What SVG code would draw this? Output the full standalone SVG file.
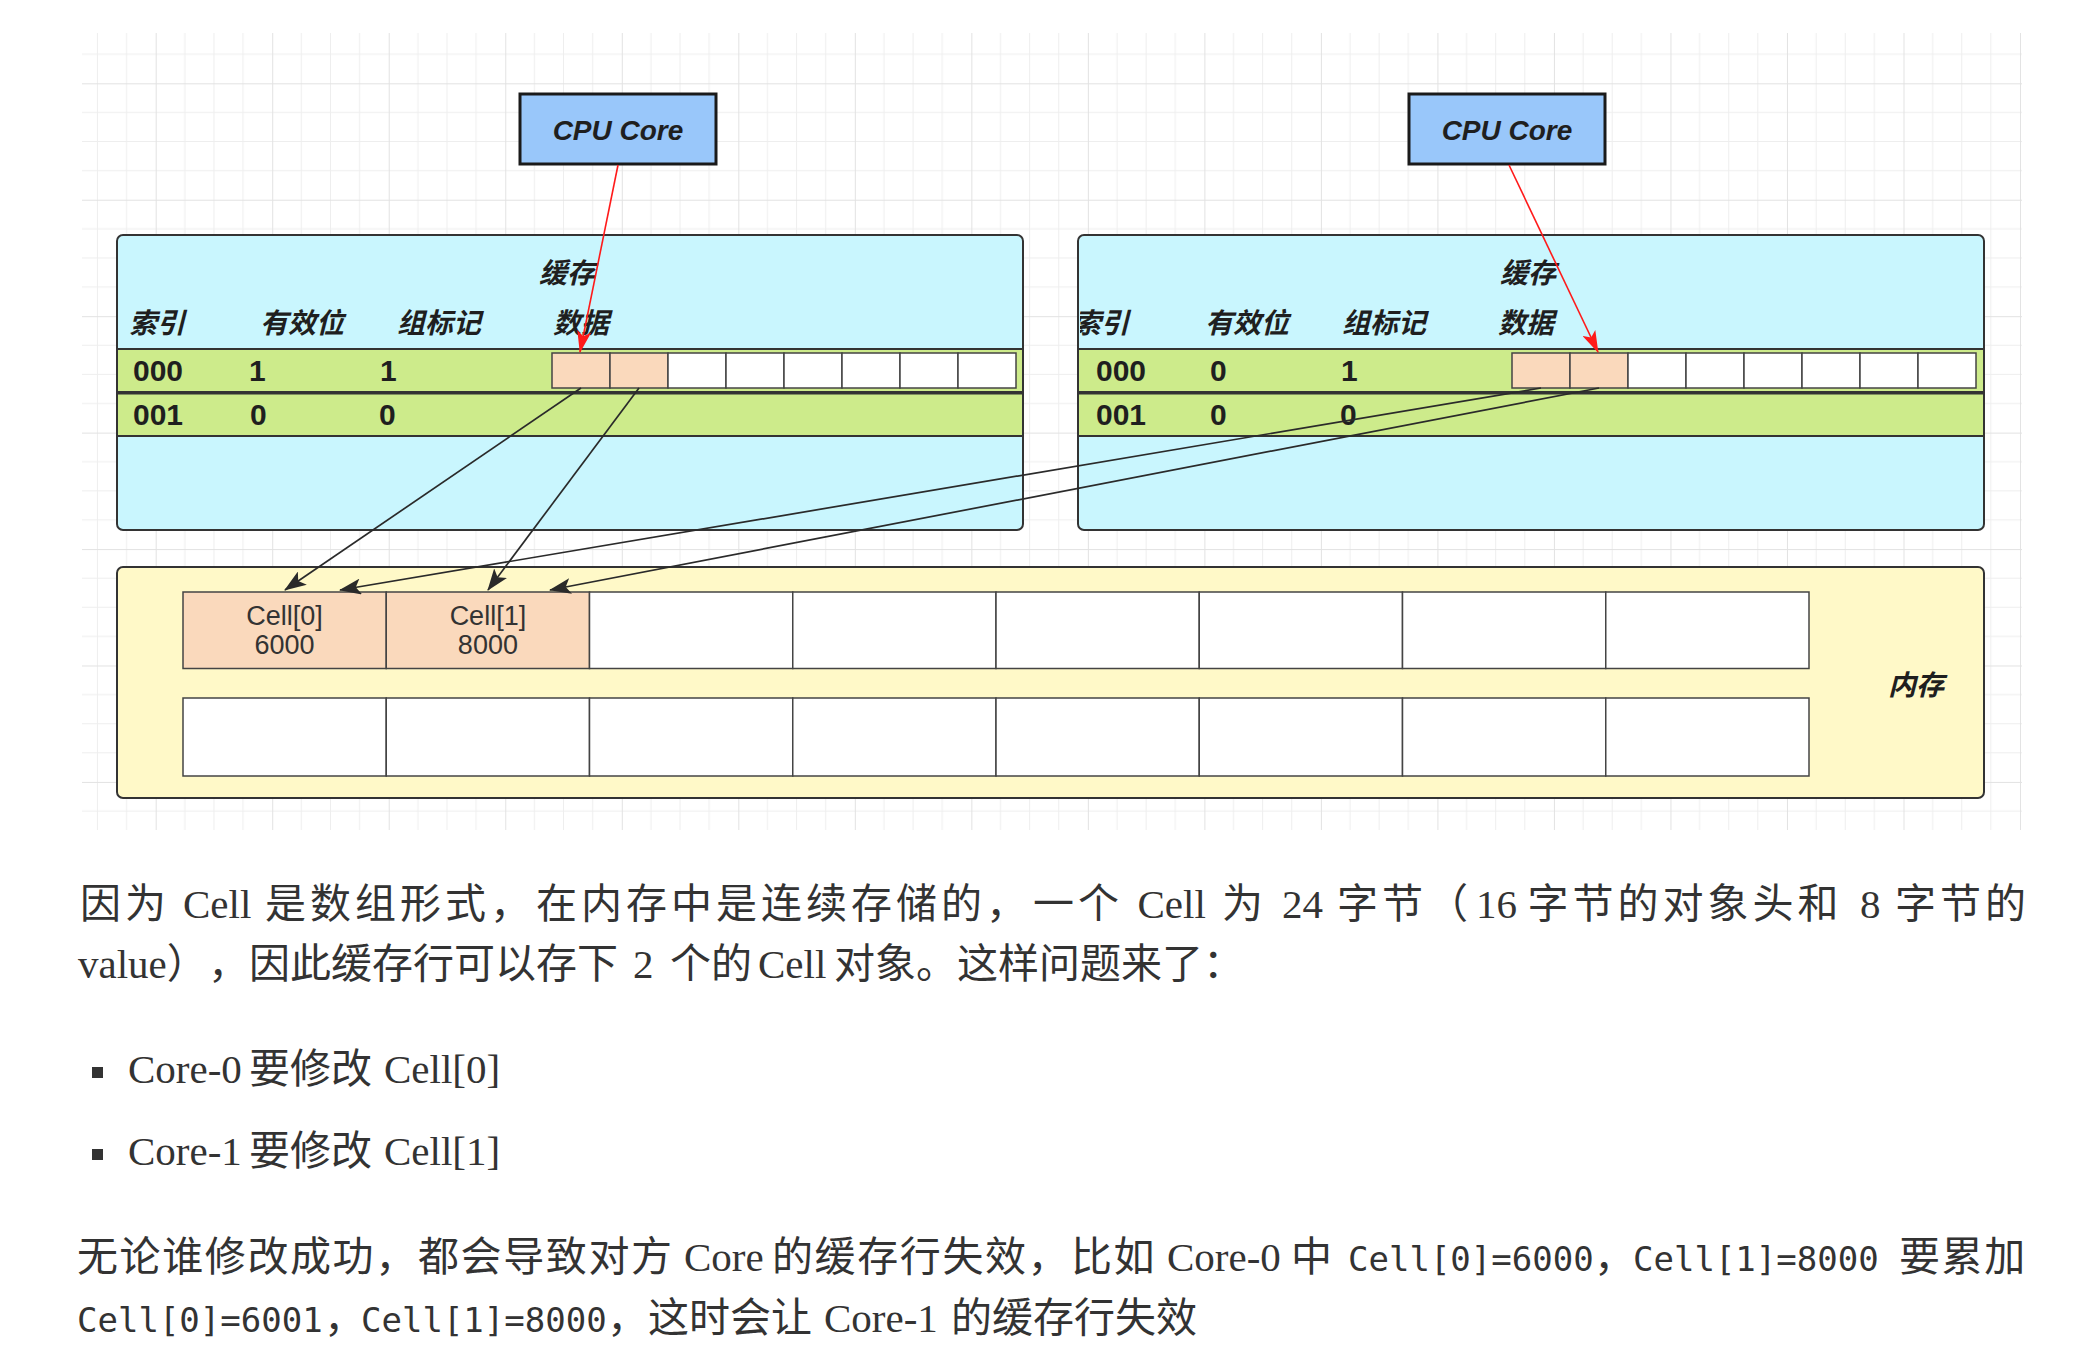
<svg xmlns="http://www.w3.org/2000/svg" width="2077" height="1368" viewBox="0 0 2077 1368">
<style>
.lbl{font-family:"Noto Sans CJK SC","Liberation Sans",sans-serif;font-weight:bold;font-style:italic;font-size:28px;fill:#1f1f1f}
.num{font-family:"Liberation Sans",Arial,sans-serif;font-weight:bold;font-size:30px;fill:#1f1f1f}
.cpu{font-family:"Liberation Sans",Arial,sans-serif;font-weight:bold;font-style:italic;font-size:28px;fill:#1f1f1f;text-anchor:middle}
.celltxt{font-family:"Liberation Sans",Arial,sans-serif;font-size:27px;fill:#333;text-anchor:middle}
.box{stroke:#333;stroke-width:2}
.band{fill:#cdeb8b;stroke:#333;stroke-width:2}
.dc{fill:#fff;stroke:#444;stroke-width:1.5}
.mc{fill:#fff;stroke:#444;stroke-width:1.5}
.dc.hot,.mc.hot{fill:#fad9bc}
.p{font-family:"Liberation Serif","Noto Sans CJK SC",serif;font-size:41px;fill:#333}
.j{letter-spacing:4px}
.j2{letter-spacing:1.6px}
.code{font-family:"DejaVu Sans Mono","Liberation Mono",monospace;font-size:34px}
.conn{stroke:#2a2a2a;stroke-width:1.7;fill:none;marker-end:url(#ah)}
.red{stroke:#ff1a1a;stroke-width:1.6;fill:none;marker-end:url(#ahr)}
</style>
<defs>
<pattern id="grid" patternUnits="userSpaceOnUse" x="39.18" y="83.3" width="116.52" height="116.44">
<path d="M29.13,0V116.44M58.26,0V116.44M87.39,0V116.44M0,29.11H116.52M0,58.22H116.52M0,87.33H116.52" stroke="#eeeeee" stroke-width="1" fill="none"/>
<path d="M0.5,0V116.44M0,0.5H116.52" stroke="#e2e2e2" stroke-width="1" fill="none"/>
</pattern>
<marker id="ah" viewBox="0 0 22 16" markerWidth="22" markerHeight="16" refX="21" refY="8" orient="auto" markerUnits="userSpaceOnUse">
<path d="M0,0 L22,8 L0,16 L5,8 Z" fill="#2a2a2a"/>
</marker>
<marker id="ahr" viewBox="0 0 22 14" markerWidth="22" markerHeight="14" refX="21" refY="7" orient="auto" markerUnits="userSpaceOnUse">
<path d="M0,0 L22,7 L0,14 L5,7 Z" fill="#ff1a1a"/>
</marker>
<clipPath id="clip2"><rect x="1080" y="235" width="904" height="295"/></clipPath>
</defs>
<rect width="2077" height="1368" fill="#ffffff"/>
<rect x="82" y="33" width="1940" height="797" fill="url(#grid)"/>

<g id="cpu-core-0">
<rect x="520" y="94" width="196" height="70" fill="#99c7fa" stroke="#1a1a1a" stroke-width="3"/>
<text class="cpu" x="618" y="139.5">CPU Core</text>
</g>
<g id="cpu-core-1">
<rect x="1409" y="94" width="196" height="70" fill="#99c7fa" stroke="#1a1a1a" stroke-width="3"/>
<text class="cpu" x="1507" y="139.5">CPU Core</text>
</g>

<g id="cache-0">
<rect class="box" x="117" y="235" width="906" height="295" rx="6" fill="#c9f6fe"/>
<text class="lbl" x="539" y="283">缓存</text>
<text class="lbl" x="129" y="333">索引</text>
<text class="lbl" x="260" y="333">有效位</text>
<text class="lbl" x="397" y="333">组标记</text>
<text class="lbl" x="553" y="333">数据</text>
<rect class="band" x="117" y="349" width="906" height="43"/>
<rect class="band" x="117" y="393.5" width="906" height="42.5"/>
<text class="num" x="133" y="381">000</text>
<text class="num" x="249" y="381">1</text>
<text class="num" x="380" y="381">1</text>
<text class="num" x="133" y="425">001</text>
<text class="num" x="250" y="425">0</text>
<text class="num" x="379" y="425">0</text>
<rect class="dc hot" x="552" y="353" width="58" height="35"/>
<rect class="dc hot" x="610" y="353" width="58" height="35"/>
<rect class="dc" x="668" y="353" width="58" height="35"/>
<rect class="dc" x="726" y="353" width="58" height="35"/>
<rect class="dc" x="784" y="353" width="58" height="35"/>
<rect class="dc" x="842" y="353" width="58" height="35"/>
<rect class="dc" x="900" y="353" width="58" height="35"/>
<rect class="dc" x="958" y="353" width="58" height="35"/>
</g>

<g id="cache-1">
<rect class="box" x="1078" y="235" width="906" height="295" rx="6" fill="#c9f6fe"/>
<text class="lbl" x="1500" y="283">缓存</text>
<text class="lbl" x="1073" y="333" clip-path="url(#clip2)">索引</text>
<text class="lbl" x="1205" y="333">有效位</text>
<text class="lbl" x="1342" y="333">组标记</text>
<text class="lbl" x="1498" y="333">数据</text>
<rect class="band" x="1078" y="349" width="906" height="43"/>
<rect class="band" x="1078" y="393.5" width="906" height="42.5"/>
<text class="num" x="1096" y="381">000</text>
<text class="num" x="1210" y="381">0</text>
<text class="num" x="1341" y="381">1</text>
<text class="num" x="1096" y="425">001</text>
<text class="num" x="1210" y="425">0</text>
<text class="num" x="1340" y="425">0</text>
<rect class="dc hot" x="1512" y="353" width="58" height="35"/>
<rect class="dc hot" x="1570" y="353" width="58" height="35"/>
<rect class="dc" x="1628" y="353" width="58" height="35"/>
<rect class="dc" x="1686" y="353" width="58" height="35"/>
<rect class="dc" x="1744" y="353" width="58" height="35"/>
<rect class="dc" x="1802" y="353" width="58" height="35"/>
<rect class="dc" x="1860" y="353" width="58" height="35"/>
<rect class="dc" x="1918" y="353" width="58" height="35"/>
</g>

<g id="memory">
<rect class="box" x="117" y="567" width="1867" height="231" rx="6" fill="#fff9c8"/>
<rect class="mc hot" x="183" y="592" width="203.25" height="76.5"/>
<rect class="mc hot" x="386.25" y="592" width="203.25" height="76.5"/>
<rect class="mc" x="589.5" y="592" width="203.25" height="76.5"/>
<rect class="mc" x="792.75" y="592" width="203.25" height="76.5"/>
<rect class="mc" x="996" y="592" width="203.25" height="76.5"/>
<rect class="mc" x="1199.25" y="592" width="203.25" height="76.5"/>
<rect class="mc" x="1402.5" y="592" width="203.25" height="76.5"/>
<rect class="mc" x="1605.75" y="592" width="203.25" height="76.5"/>
<rect class="mc" x="183" y="698" width="203.25" height="78"/>
<rect class="mc" x="386.25" y="698" width="203.25" height="78"/>
<rect class="mc" x="589.5" y="698" width="203.25" height="78"/>
<rect class="mc" x="792.75" y="698" width="203.25" height="78"/>
<rect class="mc" x="996" y="698" width="203.25" height="78"/>
<rect class="mc" x="1199.25" y="698" width="203.25" height="78"/>
<rect class="mc" x="1402.5" y="698" width="203.25" height="78"/>
<rect class="mc" x="1605.75" y="698" width="203.25" height="78"/>
<text class="celltxt" x="284.6" y="625">Cell[0]</text>
<text class="celltxt" x="284.6" y="654">6000</text>
<text class="celltxt" x="487.9" y="625">Cell[1]</text>
<text class="celltxt" x="487.9" y="654">8000</text>
<text class="lbl" x="1888" y="695">内存</text>
</g>

<g id="connectors">
<line class="red" x1="618" y1="165" x2="580" y2="352"/>
<line class="red" x1="1509" y1="165" x2="1598" y2="352"/>
<line class="conn" x1="581" y1="388" x2="285" y2="590"/>
<line class="conn" x1="639" y1="388" x2="488" y2="590"/>
<line class="conn" x1="1541" y1="388" x2="340" y2="590"/>
<line class="conn" x1="1599" y1="388" x2="550" y2="590"/>
</g>

<g id="text" class="p">
<text y="918"><tspan x="80" class="j">因为</tspan><tspan x="183">Cell</tspan><tspan x="265" class="j">是数组形式，</tspan><tspan x="536" class="j">在内存中是连续存储的，</tspan><tspan x="1033" class="j">一个</tspan><tspan x="1137.5">Cell</tspan><tspan x="1222" class="j">为</tspan><tspan x="1282">24</tspan><tspan x="1337" class="j">字节（</tspan><tspan x="1476">16</tspan><tspan x="1527.5" class="j">字节的对象头和</tspan><tspan x="1860">8</tspan><tspan x="1895" class="j">字节的</tspan></text>
<text y="978"><tspan x="78">value）</tspan><tspan x="208">，</tspan><tspan x="249">因此缓存行可以存下</tspan><tspan x="633">2</tspan><tspan x="670">个的</tspan><tspan x="758">Cell</tspan><tspan x="834">对象。这样问题来了：</tspan></text>
<rect x="92" y="1067" width="11" height="11" fill="#333"/>
<text y="1083"><tspan x="128">Core-0</tspan><tspan x="249">要修改</tspan><tspan x="384">Cell[0]</tspan></text>
<rect x="92" y="1149" width="11" height="11" fill="#333"/>
<text y="1165"><tspan x="128">Core-1</tspan><tspan x="249">要修改</tspan><tspan x="384">Cell[1]</tspan></text>
<text y="1271"><tspan x="77" class="j2">无论谁修改成功，</tspan><tspan x="418" class="j2">都会导致对方</tspan><tspan x="684">Core</tspan><tspan x="772" class="j2">的缓存行失效，</tspan><tspan x="1071" class="j2">比如</tspan><tspan x="1167">Core-0</tspan><tspan x="1291">中</tspan><tspan x="1348" class="code">Cell[0]=6000</tspan><tspan x="1594">，</tspan><tspan x="1633" class="code">Cell[1]=8000</tspan><tspan x="1899" class="j2">要累加</tspan></text>
<text y="1332"><tspan x="77" class="code">Cell[0]=6001</tspan><tspan x="324">，</tspan><tspan x="361" class="code">Cell[1]=8000</tspan><tspan x="607">，</tspan><tspan x="648">这时会让</tspan><tspan x="824">Core-1</tspan><tspan x="951">的缓存行失效</tspan></text>
</g>
</svg>
